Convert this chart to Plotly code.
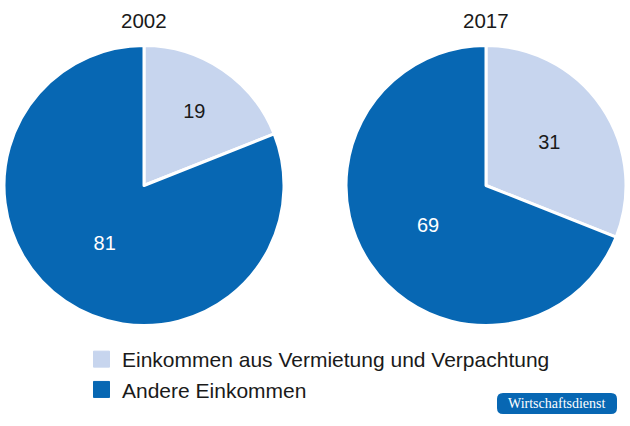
import plotly.graph_objects as go

years = ["2002", "2017"]
categories = ["Einkommen aus Vermietung und Verpachtung", "Andere Einkommen"]
values_2002 = [19, 81]
values_2017 = [31, 69]
colors = ["#c7d5ee", "#0767b3"]

W, H = 630, 426
FONT = "Liberation Sans, Arial, sans-serif"
fig = go.Figure()

domains = [
    dict(x=[4 / W, 284 / W], y=[1 - 326 / H, 1 - 45 / H]),
    dict(x=[346 / W, 626 / W], y=[1 - 326 / H, 1 - 45 / H]),
]

for i, (yr, vals) in enumerate(zip(years, [values_2002, values_2017])):
    fig.add_trace(go.Pie(
        labels=categories,
        values=vals,
        sort=False,
        direction="clockwise",
        rotation=0,
        domain=domains[i],
        marker=dict(colors=colors, line=dict(color="white", width=3)),
        textinfo="value",
        textposition="inside",
        insidetextorientation="horizontal",
        textfont=dict(size=20, color=["#1a1a1a", "white"], family=FONT),
        showlegend=False,
        hoverinfo="label+value",
    ))
    cx = (domains[i]["x"][0] + domains[i]["x"][1]) / 2
    fig.add_annotation(
        x=cx, y=1 - 20 / H, xref="paper", yref="paper",
        xanchor="center", yanchor="middle",
        text=yr, showarrow=False,
        font=dict(size=20.5, color="#1a1a1a", family=FONT),
    )

# legend entries with larger square swatches
for name, col in zip(categories, colors):
    fig.add_trace(go.Scatter(
        x=[None], y=[None], mode="markers", name=name,
        marker=dict(symbol="square", size=16, color=col, line=dict(color=col, width=1)),
        showlegend=True,
    ))

# badge with rounded corners
bx0, bx1, by0, by1, r = 497, 617, 393, 414, 6
def px(x):
    return x / W
def py(y):
    return 1 - y / H
path = (
    f"M {px(bx0 + r)} {py(by0)} L {px(bx1 - r)} {py(by0)} "
    f"Q {px(bx1)} {py(by0)} {px(bx1)} {py(by0 + r)} "
    f"L {px(bx1)} {py(by1 - r)} Q {px(bx1)} {py(by1)} {px(bx1 - r)} {py(by1)} "
    f"L {px(bx0 + r)} {py(by1)} Q {px(bx0)} {py(by1)} {px(bx0)} {py(by1 - r)} "
    f"L {px(bx0)} {py(by0 + r)} Q {px(bx0)} {py(by0)} {px(bx0 + r)} {py(by0)} Z"
)
fig.add_shape(
    type="path", xref="paper", yref="paper", path=path,
    fillcolor="#0767b3", line=dict(width=0), layer="below",
)
fig.add_annotation(
    x=px((bx0 + bx1) / 2), y=py((by0 + by1) / 2), xref="paper", yref="paper",
    xanchor="center", yanchor="middle",
    text="Wirtschaftsdienst", showarrow=False,
    font=dict(size=14, color="white", family="Liberation Serif, DejaVu Serif, serif"),
)

fig.update_layout(
    width=W, height=H,
    margin=dict(l=0, r=0, t=0, b=0),
    paper_bgcolor="white",
    plot_bgcolor="white",
    font=dict(family=FONT, size=20, color="#1a1a1a"),
    xaxis=dict(visible=False, domain=[0, 0.01]),
    yaxis=dict(visible=False, domain=[0, 0.01]),
    legend=dict(
        x=81 / W, y=1 - 339 / H, xanchor="left", yanchor="top",
        font=dict(size=21, color="#1a1a1a", family=FONT),
        tracegroupgap=0,
        itemwidth=31,
        bgcolor="rgba(0,0,0,0)",
    ),
)

fig.write_html("out.html")
